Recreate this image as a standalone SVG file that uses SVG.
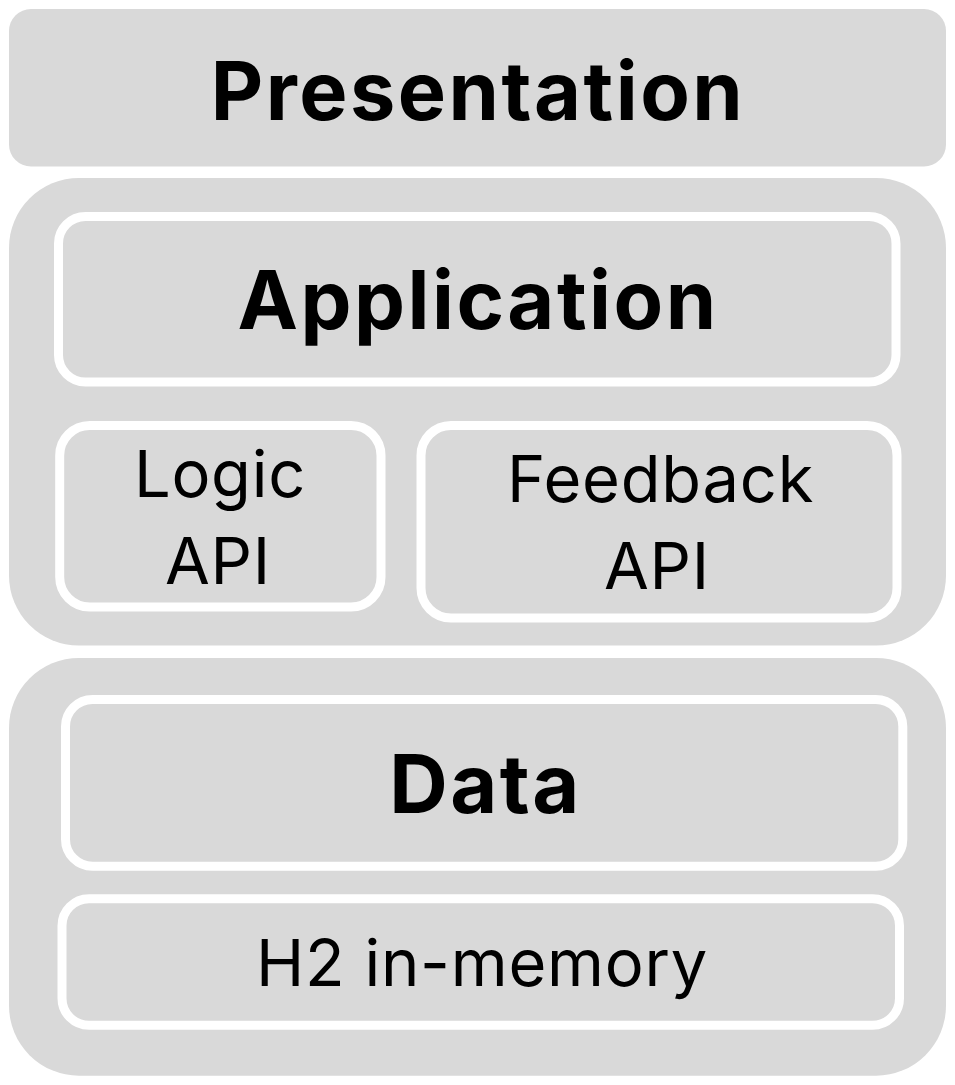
<svg xmlns="http://www.w3.org/2000/svg" width="955" height="1085" viewBox="0 0 955 1085">
<style>
.layer{fill:#d9d9d9}
.box{fill:#d9d9d9;stroke:#ffffff;stroke-width:9}
.t{font-family:Inter,"Liberation Sans",sans-serif;fill:#000;text-anchor:middle}
.b{font-weight:700;font-size:81px;letter-spacing:2.5px}
.r{font-weight:400;font-size:65px;letter-spacing:0.75px}
</style>
<rect width="955" height="1085" fill="#ffffff"/>
<g id="presentation">
<rect class="layer" x="9" y="9" width="937" height="157.5" rx="22"/>
<text class="t b" x="478" y="120">Presentation</text>
</g>
<g id="application-layer">
<rect class="layer" x="9" y="178" width="937" height="467.5" rx="70"/>
</g>
<g id="application">
<rect class="box" x="58.5" y="216.5" width="837.5" height="165.5" rx="27"/>
<text class="t b" x="478" y="329">Application</text>
</g>
<g id="logic-api">
<rect class="box" x="59.7" y="425.5" width="321.3" height="181.5" rx="30"/>
<text class="t r" x="220" y="496.7">Logic</text>
<text class="t r" x="218" y="584">API</text>
</g>
<g id="feedback-api">
<rect class="box" x="421" y="425.5" width="476" height="192.5" rx="30"/>
<text class="t r" x="660.5" y="501.7">Feedback</text>
<text class="t r" x="657" y="589.3">API</text>
</g>
<g id="data-layer">
<rect class="layer" x="9" y="658" width="937" height="417.7" rx="70"/>
</g>
<g id="data">
<rect class="box" x="65.5" y="699.5" width="837.3" height="166.7" rx="27"/>
<text class="t b" x="485.5" y="812.7">Data</text>
</g>
<g id="h2">
<rect class="box" x="62" y="898.7" width="837.5" height="126.6" rx="27"/>
<text class="t r" x="482" y="986">H2 in-memory</text>
</g>
<g id="connectors"></g>
</svg>
